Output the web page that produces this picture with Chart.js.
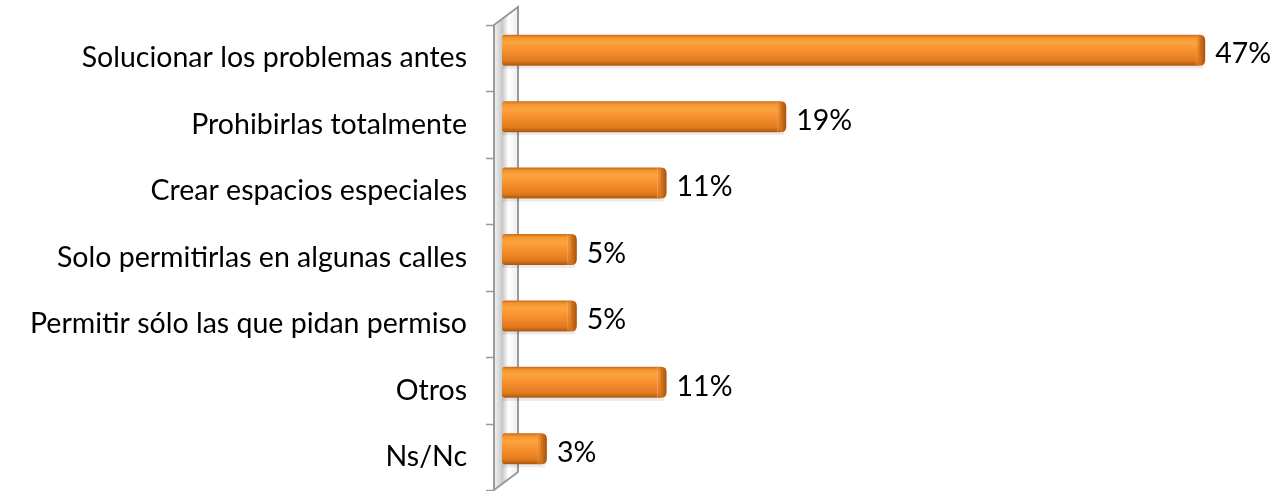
<!DOCTYPE html>
<html>
<head>
<meta charset="utf-8">
<script src="https://cdn.jsdelivr.net/npm/chart.js@4.4.1/dist/chart.umd.min.js"></script>
<style>
  html, body { margin: 0; padding: 0; background: #fff; overflow: hidden; }
  canvas { display: block; }
</style>
</head>
<body>
<canvas id="barChart" width="1284" height="491"></canvas>
<script>
// Chart data
const categories = [
    'Solucionar los problemas antes',
    'Prohibirlas totalmente',
    'Crear espacios especiales',
    'Solo permitirlas en algunas calles',
    'Permitir sólo las que pidan permiso',
    'Otros',
    'Ns/Nc'
];
const percentValues = [47, 19, 11, 5, 5, 11, 3];
const valueLabels = ['47%', '19%', '11%', '5%', '5%', '11%', '3%'];

const FONT = 'Lato, "Open Sans", sans-serif';
const FONT_SIZE = 28.5;
const LIFT = 8; // bars sit a bit higher than the category centre (3D look)

// Draws the 3D side wall, the tick marks, the bars and the value labels
const bar3dPlugin = {
    id: 'bar3d',
    beforeDatasetsDraw: function(chart) {
        const ctx = chart.ctx;
        const area = chart.chartArea;
        const front = area.left - 8;
        const back = front + 24;
        const depth = 18;

        // wall
        ctx.save();
        const g = ctx.createLinearGradient(front, 0, back, 0);
        g.addColorStop(0, '#f4f4f4');
        g.addColorStop(0.35, '#c8c8c8');
        g.addColorStop(0.6, '#ffffff');
        g.addColorStop(1, '#eeeeee');
        ctx.fillStyle = g;
        ctx.beginPath();
        ctx.moveTo(front, area.top);
        ctx.lineTo(back, area.top - depth);
        ctx.lineTo(back, area.bottom - depth);
        ctx.lineTo(front, area.bottom);
        ctx.closePath();
        ctx.fill();
        ctx.strokeStyle = '#9a9a9a';
        ctx.lineWidth = 2;
        ctx.stroke();

        // tick marks on category boundaries
        ctx.lineWidth = 1.5;
        for (let i = 0; i <= categories.length; i++) {
            const y = Math.round(area.top + (area.bottom - area.top) * i / categories.length) + 0.5;
            ctx.beginPath();
            ctx.moveTo(front - 8, y);
            ctx.lineTo(front, y);
            ctx.stroke();
        }
        ctx.restore();

        // bars
        const meta = chart.getDatasetMeta(0);
        ctx.save();
        meta.data.forEach(function(el) {
            const top = el.y - el.height / 2 - LIFT;
            const h = el.height;
            const x0 = el.base;
            const x1 = el.x;
            const cap = 9;

            // soft shadow
            ctx.fillStyle = 'rgba(0,0,0,0.08)';
            ctx.fillRect(x0, top + h, x1 - x0 - 2, 3);

            // front face
            const fg = ctx.createLinearGradient(0, top, 0, top + h);
            fg.addColorStop(0, '#c96a18');
            fg.addColorStop(0.1, '#f49630');
            fg.addColorStop(0.25, '#fca43f');
            fg.addColorStop(0.55, '#f68d2c');
            fg.addColorStop(0.85, '#e07a1e');
            fg.addColorStop(1, '#a9560f');
            ctx.fillStyle = fg;
            ctx.beginPath();
            ctx.moveTo(x0, top + 3);
            ctx.quadraticCurveTo(x0, top, x0 + 3, top);
            ctx.lineTo(x1 - cap, top);
            ctx.lineTo(x1 - cap, top + h);
            ctx.lineTo(x0 + 3, top + h);
            ctx.quadraticCurveTo(x0, top + h, x0, top + h - 3);
            ctx.closePath();
            ctx.fill();

            // rounded end cap
            const cg = ctx.createLinearGradient(x1 - cap, 0, x1, 0);
            cg.addColorStop(0, '#e88527');
            cg.addColorStop(0.5, '#cf701a');
            cg.addColorStop(1, '#a5520e');
            ctx.fillStyle = cg;
            ctx.beginPath();
            ctx.moveTo(x1 - cap, top);
            ctx.lineTo(x1 - 5, top);
            ctx.quadraticCurveTo(x1, top, x1, top + 6);
            ctx.lineTo(x1, top + h - 6);
            ctx.quadraticCurveTo(x1, top + h, x1 - 5, top + h);
            ctx.lineTo(x1 - cap, top + h);
            ctx.closePath();
            ctx.fill();
            ctx.fillStyle = fg;
            ctx.globalAlpha = 0.5;
            ctx.fillRect(x1 - cap, top, 3, h);
            ctx.globalAlpha = 1;
        });
        ctx.restore();
    },
    afterDatasetsDraw: function(chart) {
        const ctx = chart.ctx;
        const meta = chart.getDatasetMeta(0);
        ctx.save();
        ctx.font = FONT_SIZE + 'px ' + FONT;
        ctx.fillStyle = '#000';
        ctx.textAlign = 'left';
        ctx.textBaseline = 'middle';
        meta.data.forEach(function(el, i) {
            ctx.fillText(valueLabels[i], el.x + 10, el.y - LIFT + 4);
        });
        ctx.restore();
    }
};

new Chart(document.getElementById('barChart'), {
    type: 'bar',
    data: {
        labels: categories,
        datasets: [{
            data: percentValues,
            backgroundColor: 'rgba(0,0,0,0)',
            borderWidth: 0,
            barThickness: 31
        }]
    },
    options: {
        indexAxis: 'y',
        responsive: false,
        animation: false,
        layout: { padding: { top: 25, bottom: 1, right: 4, left: 0 } },
        plugins: {
            legend: { display: false },
            tooltip: { enabled: false }
        },
        scales: {
            x: {
                display: false,
                min: 0,
                max: 52
            },
            y: {
                grid: { display: false, drawTicks: false },
                border: { display: false },
                ticks: {
                    color: '#000',
                    padding: 35,
                    font: { family: FONT, size: FONT_SIZE }
                },
                afterFit: function(scale) {
                    scale.width = 502;
                    // labels sit inside their bands, no extra room needed
                    scale.paddingTop = 0;
                    scale.paddingBottom = 0;
                }
            }
        }
    },
    plugins: [bar3dPlugin]
});
</script>
</body>
</html>
